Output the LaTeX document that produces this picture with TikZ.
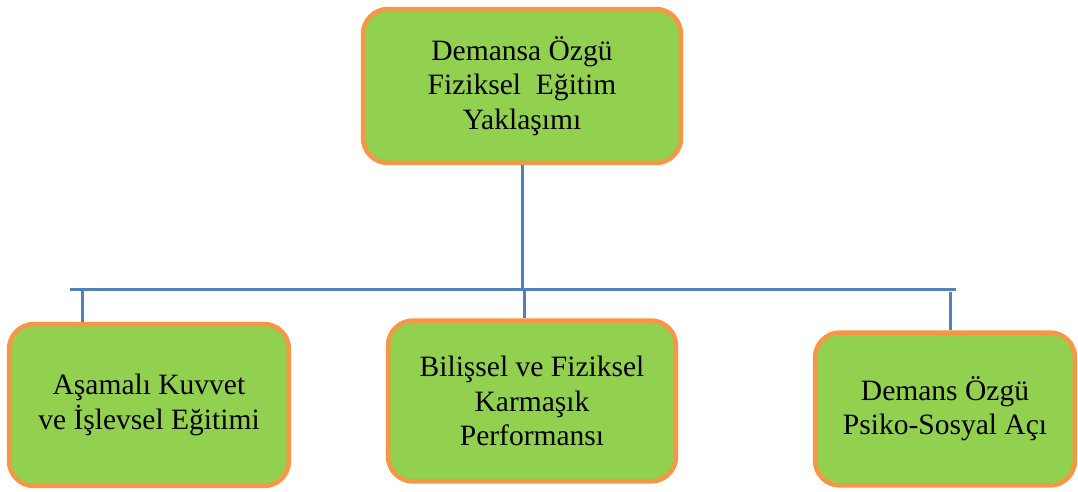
\documentclass[tikz,border=0pt]{standalone}
\usepackage{fontspec}
\setmainfont{Liberation Serif}
\usepackage{tikz}
\usetikzlibrary{positioning}
\definecolor{boxgreen}{RGB}{146,208,80}
\definecolor{boxorange}{RGB}{247,150,70}
\definecolor{linkblue}{RGB}{79,129,189}

\begin{document}
\begin{tikzpicture}[x=0.02cm,y=-0.02cm,
    topic/.style={draw=boxorange,fill=boxgreen,line width=0.09cm,rounded corners=0.5cm,
      align=center,inner sep=0pt,font=\fontsize{16.8}{19.5}\selectfont},
    link/.style={draw=linkblue,line width=0.06cm}]
          \useasboundingbox (0,0) rectangle (1078,491);
          \node [topic,minimum width=6.36cm,minimum height=3.08cm] (top) at (522,86)
                {Demansa Özgü\\Fiziksel \ Eğitim\\Yaklaşımı};
          \node [topic,minimum width=5.6cm,minimum height=3.24cm] (a1) at (149,405)
                {Aşamalı Kuvvet\\ve İşlevsel Eğitimi};
          \node [topic,minimum width=5.76cm,minimum height=3.22cm] (a2) at (532,401)
                {Bilişsel ve Fiziksel\\Karmaşık\\Performansı};
          \node [topic,minimum width=5.2cm,minimum height=3.06cm] (a3) at (945,409)
                {Demans Özgü\\Psiko-Sosyal Açı};
          \coordinate (busl) at (70,289);
          \coordinate (busr) at (956,289);
          \coordinate (d1) at (82,289);
          \coordinate (d2) at (524,289);
          \coordinate (d3) at (950,292);
          \draw [link] (busl)--(busr);
          \draw [link] (top.south)--(top.south |- busl);
          \draw [link] (d1)--(d1 |- a1.north);
          \draw [link] (d2)--(d2 |- a2.north);
          \draw [link] (d3)--(d3 |- a3.north);
        \end{tikzpicture}
\end{document}
